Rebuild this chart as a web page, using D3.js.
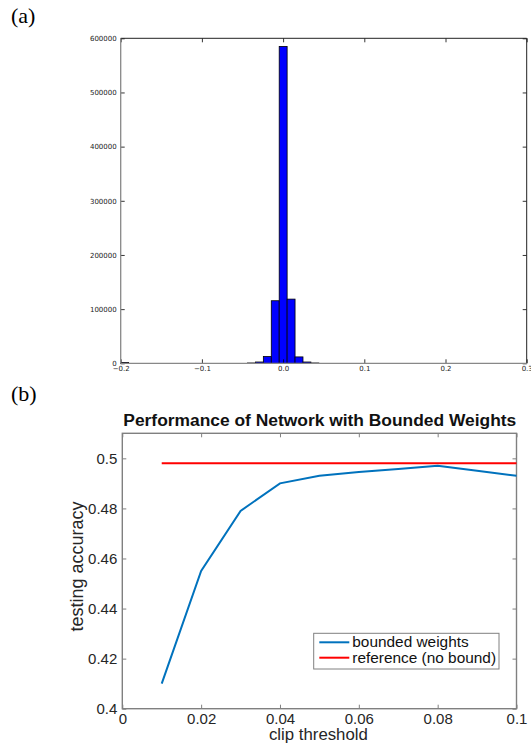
<!DOCTYPE html>
<html><head><meta charset="utf-8">
<script src="https://cdn.jsdelivr.net/npm/d3@7/dist/d3.min.js"></script>
<style>body{margin:0;background:#fff}svg{display:block}</style>
</head><body>
<svg id="c" width="531" height="744"></svg>
<script>
// ---- Panel (a): histogram of weights ----
const histStart = -0.2;
const histBinWidth = 0.00976;
const histCounts = [1500,0,0,0,0,0,0,0,0,0,0,0,0,0,0,0,600,2400,12500,115500,585000,118500,11800,2400,600];
const histXTicks = [-0.2,-0.1,0.0,0.1,0.2,0.3];
const histXTickLabels = ["\u22120.2","\u22120.1","0.0","0.1","0.2","0.3"];
const histYTicks = [0,100000,200000,300000,400000,500000,600000];

// ---- Panel (b): accuracy vs clip threshold ----
const clipThreshold = [0.01,0.02,0.03,0.04,0.05,0.06,0.07,0.08,0.09,0.10];
const boundedAcc = [0.410,0.455,0.479,0.490,0.493,0.4945,0.4957,0.497,0.495,0.493];
const refX = [0.01,0.10];
const refAcc = [0.498,0.498];
const perfXTicks = [0,0.02,0.04,0.06,0.08,0.1];
const perfXTickLabels = ["0","0.02","0.04","0.06","0.08","0.1"];
const perfYTicks = [0.4,0.42,0.44,0.46,0.48,0.5];
const perfYTickLabels = ["0.4","0.42","0.44","0.46","0.48","0.5"];
const legendLabels = ["bounded weights","reference (no bound)"];

const svg = d3.select("#c");

// panel labels
svg.append("text").attr("x",11).attr("y",23).attr("font-family","Liberation Serif, serif").attr("font-size",22).text("(a)");
svg.append("text").attr("x",11).attr("y",401).attr("font-family","Liberation Serif, serif").attr("font-size",22).text("(b)");

// ===== Panel (a) =====
{
  const L=120.7,R=526.7,T=38.3,B=363.3;
  const x=d3.scaleLinear().domain([-0.2,0.3]).range([L,R]);
  const y=d3.scaleLinear().domain([0,600000]).range([B,T]);
  const g=svg.append("g");
  const bins=histCounts.map((c,i)=>({x0:histStart+i*histBinWidth,x1:histStart+(i+1)*histBinWidth,c}));
  g.selectAll("rect.bar").data(bins.filter(d=>d.c>0)).join("rect")
    .attr("x",d=>x(d.x0)).attr("width",d=>x(d.x1)-x(d.x0))
    .attr("y",d=>y(d.c)).attr("height",d=>y(0)-y(d.c))
    .attr("fill","#0000ff").attr("stroke","#000").attr("stroke-width",0.8);
  const font="DejaVu Sans, sans-serif";
  const ax=(axis,tx,ty)=>{
    const a=g.append("g").attr("transform",`translate(${tx},${ty})`).call(axis);
    a.select(".domain").remove();
    a.selectAll(".tick line").attr("stroke","#000").attr("stroke-width",0.8);
    a.selectAll(".tick text").attr("font-family",font).attr("font-size",7).attr("fill","#222");
    return a;
  };
  ax(d3.axisBottom(x).tickValues(histXTicks).tickFormat((d,i)=>histXTickLabels[i]).tickSize(-4).tickPadding(3),0,B);
  ax(d3.axisTop(x).tickValues(histXTicks).tickFormat("").tickSize(-4),0,T);
  ax(d3.axisLeft(y).tickValues(histYTicks).tickFormat(d3.format("d")).tickSize(-4).tickPadding(4),L,0);
  ax(d3.axisRight(y).tickValues(histYTicks).tickFormat("").tickSize(-4),R,0);
  g.append("line").attr("x1",L).attr("x2",R).attr("y1",T).attr("y2",T).attr("stroke","#222").attr("stroke-width",1);
  g.append("line").attr("x1",R).attr("x2",R).attr("y1",T).attr("y2",B).attr("stroke","#222").attr("stroke-width",1);
  g.append("line").attr("x1",L).attr("x2",L).attr("y1",T).attr("y2",B).attr("stroke","#888").attr("stroke-width",1.3);
  g.append("line").attr("x1",L).attr("x2",R).attr("y1",B).attr("y2",B).attr("stroke","#888").attr("stroke-width",1.3);
}

// ===== Panel (b) =====
{
  const L=122.3,R=516.5,T=433.3,B=708.7;
  const x=d3.scaleLinear().domain([0,0.1]).range([L,R]);
  const y=d3.scaleLinear().domain([0.4,0.51]).range([B,T]);
  const g=svg.append("g");
  const font="Liberation Sans, Arial, sans-serif";
  const axCol="#808080";
  const ax=(axis,tx,ty)=>{
    const a=g.append("g").attr("transform",`translate(${tx},${ty})`).call(axis);
    a.select(".domain").remove();
    a.selectAll(".tick line").attr("stroke",axCol).attr("stroke-width",1);
    a.selectAll(".tick text").attr("font-family",font).attr("font-size",15).attr("fill","#262626");
    return a;
  };
  ax(d3.axisBottom(x).tickValues(perfXTicks).tickFormat((d,i)=>perfXTickLabels[i]).tickSize(-4).tickPadding(5),0,B);
  ax(d3.axisTop(x).tickValues(perfXTicks).tickFormat("").tickSize(-4),0,T);
  ax(d3.axisLeft(y).tickValues(perfYTicks).tickFormat((d,i)=>perfYTickLabels[i]).tickSize(-4).tickPadding(5),L,0);
  ax(d3.axisRight(y).tickValues(perfYTicks).tickFormat("").tickSize(-4),R,0);
  g.append("rect").attr("x",L).attr("y",T).attr("width",R-L).attr("height",B-T).attr("fill","none").attr("stroke",axCol).attr("stroke-width",1.4);

  const line=d3.line().x(d=>x(d[0])).y(d=>y(d[1]));
  g.append("path").datum(refX.map((v,i)=>[v,refAcc[i]])).attr("d",line).attr("fill","none").attr("stroke","#ff0000").attr("stroke-width",2);
  g.append("path").datum(clipThreshold.map((v,i)=>[v,boundedAcc[i]])).attr("d",line).attr("fill","none").attr("stroke","#0072bd").attr("stroke-width",2);

  g.append("text").attr("x",123.3).attr("y",426).attr("textLength",393).attr("lengthAdjust","spacingAndGlyphs").attr("font-family",font).attr("font-weight","bold").attr("font-size",16).attr("fill","#111").text("Performance of Network with Bounded Weights");
  g.append("text").attr("x",(L+R)/2-1).attr("y",740).attr("text-anchor","middle").attr("font-family",font).attr("font-size",16.8).attr("fill","#262626").text("clip threshold");
  g.append("text").attr("transform",`translate(83,${(T+B)/2-4.5}) rotate(-90)`).attr("text-anchor","middle").attr("font-family",font).attr("font-size",18).attr("fill","#262626").text("testing accuracy");

  // legend
  const lg=g.append("g");
  lg.append("rect").attr("x",313.7).attr("y",633.3).attr("width",185.3).attr("height",35.7).attr("fill","#fff").attr("stroke",axCol).attr("stroke-width",1);
  const cols=["#0072bd","#ff0000"];
  legendLabels.forEach((t,i)=>{
    const cy=642.3+i*15.4;
    lg.append("line").attr("x1",319.3).attr("x2",349.3).attr("y1",cy).attr("y2",cy).attr("stroke",cols[i]).attr("stroke-width",2);
    lg.append("text").attr("x",352.3).attr("y",cy+5).attr("font-family",font).attr("font-size",15.4).attr("fill","#111").text(t);
  });
}
</script>
</body></html>
